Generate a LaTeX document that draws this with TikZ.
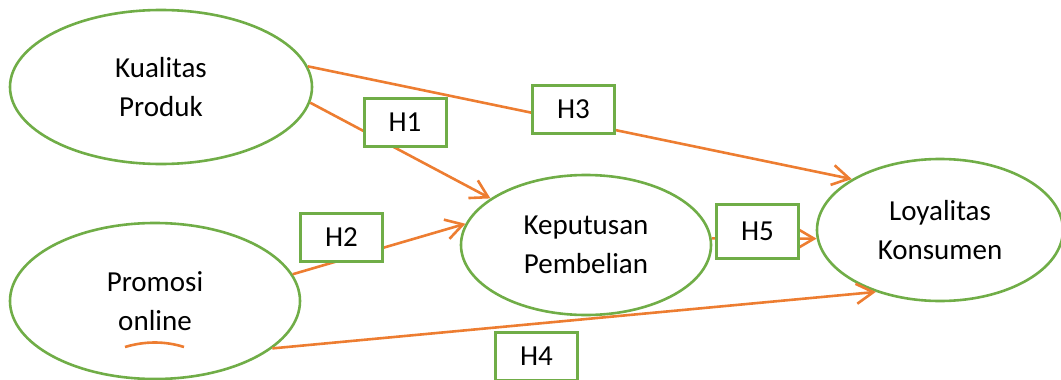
\documentclass[tikz,border=0pt]{standalone}
\usepackage{fontspec}
\setmainfont{Carlito}
\usetikzlibrary{shapes.geometric, arrows.meta}
\definecolor{grn}{HTML}{70AD47}
\definecolor{orng}{HTML}{ED7D31}

\begin{document}
\begin{tikzpicture}[x=1pt, y=-1pt,
        var/.style={ellipse, draw=grn, line width=2.6pt, inner sep=0pt, align=center, font=\fontsize{29}{39}\selectfont},
        hyp/.style={draw=grn, line width=3pt, fill=white, minimum width=82pt, minimum height=48pt, inner sep=0pt, font=\fontsize{29}{34}\selectfont},
        link/.style={draw=orng, line width=2.6pt, -{Straight Barb[length=17pt,width=20pt]}}]
        \useasboundingbox (0,0) rectangle (1061,380);

        \node[var, minimum width=302pt, minimum height=154pt] (kp) at (161,87) {Kualitas\\Produk};
        \node[var, minimum width=290pt, minimum height=156pt] (po) at (155,301) {Promosi\\online};
        \node[var, minimum width=250pt, minimum height=140pt] (kep) at (586,245) {Keputusan\\Pembelian};
        \node[var, minimum width=246pt, minimum height=142pt] (loy) at (940,230) {Loyalitas\\Konsumen};

        \draw[link] (kp.8) -- (loy.150);
        \draw[link] (kp.-6) -- (kep.154);
        \draw[link] (po.11) -- (kep.170);
        \draw[link] (po.-22) -- (loy.224);
        \draw[link] (kep.3) -- (loy.184);

        \node[hyp] (h1) at (405,122) {H1};
        \node[hyp] (h2) at (341.5,237) {H2};
        \node[hyp] (h3) at (573.5,109.5) {H3};
        \node[hyp] (h4) at (536.5,356) {H4};
        \node[hyp, minimum height=54pt] (h5) at (757.5,231.5) {H5};

        \draw[orng, line width=2.6pt] (125,347) .. controls (145,341) and (165,341) .. (184,347);
    \end{tikzpicture}
\end{document}
